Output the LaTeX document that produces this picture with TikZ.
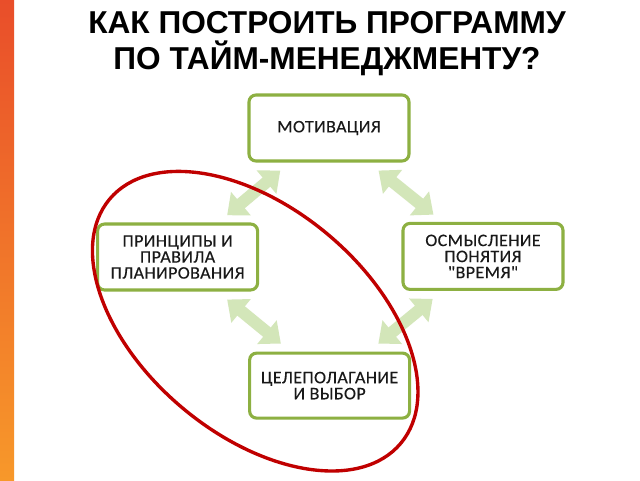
\documentclass[tikz,border=0pt]{standalone}
\usepackage{fontspec}
\setmainfont{Liberation Sans}
\newfontfamily\boxfont[LetterSpace=2, FakeStretch=1.03, FakeBold=0.25]{Carlito}
\usepackage{xcolor}
\usepackage{tikz}
\usetikzlibrary{arrows.meta, calc}
\definecolor{boxgreen}{HTML}{8DB042}
\definecolor{arrowgreen}{HTML}{D3E6B9}
\definecolor{ringred}{HTML}{C00000}
\definecolor{bartop}{HTML}{E94E2A}
\definecolor{barbottom}{HTML}{F7982A}
\tikzset{
    title/.style={font=\fontsize{22.5}{26}\selectfont\bfseries, inner sep=0pt, anchor=base},
    stage/.style={draw=boxgreen, line width=2.2pt, rounded corners=5pt, fill=white, minimum width=4cm, minimum height=1.65cm, align=center, text=black!90, font=\boxfont\fontsize{12.5}{11.4}\selectfont},
    link/.style={draw=arrowgreen, line width=0.3cm, {Triangle[length=0.45cm, width=0.74cm]}-{Triangle[length=0.45cm, width=0.74cm]}},
    focus/.style={draw=ringred, line width=2.4pt}
}

\begin{document}
\begin{tikzpicture}
    \useasboundingbox (0,0) rectangle (16,12);
    \fill[white] (0,0) rectangle (16,12);
    \shade[top color=bartop, bottom color=barbottom] (0,0) rectangle (0.35,12);

    \node[title] (title1) at (8.175,11.15) {КАК ПОСТРОИТЬ ПРОГРАММУ};
    \node[title] (title2) at ([yshift=-0.9cm]title1.base) {ПО ТАЙМ-МЕНЕДЖМЕНТУ?};

    \node[stage] (mot) at (8.225,8.8) {МОТИВАЦИЯ};
    \node[stage] (prin) at (4.44,5.575) {ПРИНЦИПЫ И\\ПРАВИЛА\\ПЛАНИРОВАНИЯ};
    \node[stage] (osm) at (12.075,5.59) {ОСМЫСЛЕНИЕ\\ПОНЯТИЯ\\"ВРЕМЯ"};
    \node[stage, minimum height=1.625cm] (cel) at (8.24,2.36) {ЦЕЛЕПОЛАГАНИЕ\\И ВЫБОР};

    \draw[link] ($(mot.south west)+(0.82,-0.2)$) -- ($(prin.north east)+(-0.8,0.18)$);
    \draw[link] ($(mot.south east)+(-0.8,-0.2)$) -- ($(osm.north west)+(0.8,0.18)$);
    \draw[link] ($(prin.south east)+(-0.8,-0.2)$) -- ($(cel.north west)+(0.82,0.2)$);
    \draw[link] ($(osm.south west)+(0.78,-0.2)$) -- ($(cel.north east)+(-0.82,0.2)$);

    \draw[focus, rotate around={-40:(6.38,3.97)}] (6.38,3.97) ellipse [x radius=4.75cm, y radius=2.83cm];
\end{tikzpicture}
\end{document}
